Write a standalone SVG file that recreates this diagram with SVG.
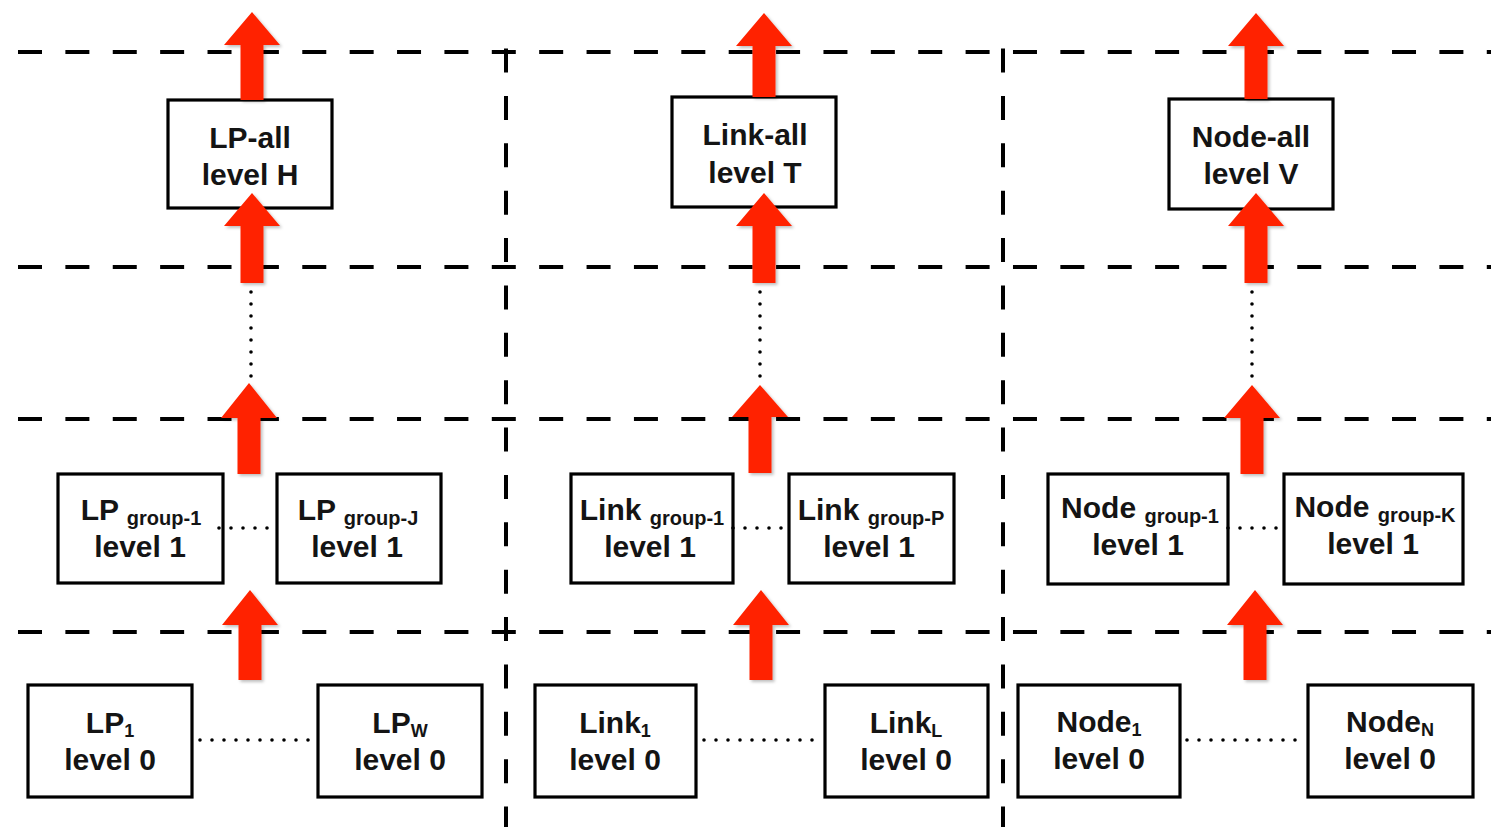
<svg xmlns="http://www.w3.org/2000/svg" width="1500" height="827" viewBox="0 0 1500 827">
<style>
.bg{fill:#ffffff}
.grid{stroke:#000;stroke-width:4;stroke-dasharray:24 23.38;fill:none}
.box{fill:#fff;stroke:#000;stroke-width:3.2}
.t{font-family:"Liberation Sans",Arial,sans-serif;font-weight:bold;font-size:30px;fill:#141414;text-anchor:middle}
.sub{font-size:20px}
.sub0{font-size:18px}
.dot{stroke:#000;stroke-width:3.6;stroke-linecap:round;stroke-dasharray:0 12;fill:none}
.arrow{fill:#ff2400;filter:url(#sh)}
</style>
<defs>
<filter id="sh" x="-30%" y="-10%" width="160%" height="130%">
<feDropShadow dx="2" dy="2" stdDeviation="1.5" flood-color="#000" flood-opacity="0.25"/>
</filter>
</defs>
<rect class="bg" x="0" y="0" width="1500" height="827"/>
<g id="grid">
<line class="grid" x1="18" y1="52" x2="1491" y2="52"/>
<line class="grid" x1="18" y1="267" x2="1491" y2="267"/>
<line class="grid" x1="18" y1="419" x2="1491" y2="419"/>
<line class="grid" x1="18" y1="632" x2="1491" y2="632"/>
<line class="grid" x1="506" y1="48.5" x2="506" y2="827"/>
<line class="grid" x1="1003" y1="48.5" x2="1003" y2="827"/>
</g>
<g id="lp-all">
<rect class="box" x="168" y="100" width="164" height="108"/>
<text class="t" x="250" y="148">LP-all</text>
<text class="t" x="250" y="185">level H</text>
</g>
<g id="link-all">
<rect class="box" x="672" y="97" width="164" height="110"/>
<text class="t" x="755" y="145">Link-all</text>
<text class="t" x="755" y="183">level T</text>
</g>
<g id="node-all">
<rect class="box" x="1169" y="99" width="164" height="110"/>
<text class="t" x="1251" y="147">Node-all</text>
<text class="t" x="1251" y="184">level V</text>
</g>
<g id="lp-group-1">
<rect class="box" x="58" y="474" width="165" height="109"/>
<text class="t" x="141" y="520">LP <tspan class="sub" dy="5">group-1</tspan></text>
<text class="t" x="140" y="557">level 1</text>
</g>
<g id="lp-group-j">
<rect class="box" x="277" y="474" width="164" height="109"/>
<text class="t" x="358" y="520">LP <tspan class="sub" dy="5">group-J</tspan></text>
<text class="t" x="357" y="557">level 1</text>
</g>
<g id="link-group-1">
<rect class="box" x="571" y="474" width="162" height="109"/>
<text class="t" x="652" y="520">Link <tspan class="sub" dy="5">group-1</tspan></text>
<text class="t" x="650" y="557">level 1</text>
</g>
<g id="link-group-p">
<rect class="box" x="789" y="474" width="165" height="109"/>
<text class="t" x="871" y="520">Link <tspan class="sub" dy="5">group-P</tspan></text>
<text class="t" x="869" y="557">level 1</text>
</g>
<g id="node-group-1">
<rect class="box" x="1048" y="474" width="180" height="110"/>
<text class="t" x="1140" y="518">Node <tspan class="sub" dy="5">group-1</tspan></text>
<text class="t" x="1138" y="555">level 1</text>
</g>
<g id="node-group-k">
<rect class="box" x="1284" y="474" width="179" height="110"/>
<text class="t" x="1375" y="517">Node <tspan class="sub" dy="5">group-K</tspan></text>
<text class="t" x="1373" y="554">level 1</text>
</g>
<g id="lp-1">
<rect class="box" x="28" y="685" width="164" height="112"/>
<text class="t" x="110" y="733">LP<tspan class="sub0" dy="4">1</tspan></text>
<text class="t" x="110" y="770">level 0</text>
</g>
<g id="lp-w">
<rect class="box" x="318" y="685" width="164" height="112"/>
<text class="t" x="400" y="733">LP<tspan class="sub0" dy="4">W</tspan></text>
<text class="t" x="400" y="770">level 0</text>
</g>
<g id="link-1">
<rect class="box" x="535" y="685" width="161" height="112"/>
<text class="t" x="615" y="733">Link<tspan class="sub0" dy="4">1</tspan></text>
<text class="t" x="615" y="770">level 0</text>
</g>
<g id="link-l">
<rect class="box" x="825" y="685" width="163" height="112"/>
<text class="t" x="906" y="733">Link<tspan class="sub0" dy="4">L</tspan></text>
<text class="t" x="906" y="770">level 0</text>
</g>
<g id="node-1">
<rect class="box" x="1018" y="685" width="162" height="112"/>
<text class="t" x="1099" y="732">Node<tspan class="sub0" dy="4">1</tspan></text>
<text class="t" x="1099" y="769">level 0</text>
</g>
<g id="node-n">
<rect class="box" x="1308" y="685" width="165" height="112"/>
<text class="t" x="1390" y="732">Node<tspan class="sub0" dy="4">N</tspan></text>
<text class="t" x="1390" y="769">level 0</text>
</g>
<g id="connectors">
<line class="dot" x1="200" y1="740" x2="310" y2="740"/>
<line class="dot" x1="704" y1="740" x2="814" y2="740"/>
<line class="dot" x1="1187" y1="740" x2="1297" y2="740"/>
<line class="dot" x1="219" y1="528" x2="277" y2="528"/>
<line class="dot" x1="733" y1="528" x2="789" y2="528"/>
<line class="dot" x1="1228" y1="528" x2="1284" y2="528"/>
<line class="dot" x1="251" y1="292" x2="251" y2="380"/>
<line class="dot" x1="760" y1="292" x2="760" y2="380"/>
<line class="dot" x1="1252" y1="292" x2="1252" y2="380"/>
<polygon class="arrow" points="252,12 280,45 263.5,45 263.5,100 240.5,100 240.5,45 224,45"/>
<polygon class="arrow" points="252,193 280,226 263.5,226 263.5,283 240.5,283 240.5,226 224,226"/>
<polygon class="arrow" points="249,383 277,418 260.5,418 260.5,474 237.5,474 237.5,418 221,418"/>
<polygon class="arrow" points="250,590 278,625 261.5,625 261.5,680 238.5,680 238.5,625 222,625"/>
<polygon class="arrow" points="764,13 792,46 775.5,46 775.5,97 752.5,97 752.5,46 736,46"/>
<polygon class="arrow" points="764,193 792,226 775.5,226 775.5,283 752.5,283 752.5,226 736,226"/>
<polygon class="arrow" points="760,385 788,417 771.5,417 771.5,473 748.5,473 748.5,417 732,417"/>
<polygon class="arrow" points="761,590 789,625 772.5,625 772.5,680 749.5,680 749.5,625 733,625"/>
<polygon class="arrow" points="1256,13 1284,46 1267.5,46 1267.5,99 1244.5,99 1244.5,46 1228,46"/>
<polygon class="arrow" points="1256,193 1284,226 1267.5,226 1267.5,283 1244.5,283 1244.5,226 1228,226"/>
<polygon class="arrow" points="1252,385 1280,418 1263.5,418 1263.5,474 1240.5,474 1240.5,418 1224,418"/>
<polygon class="arrow" points="1255,590 1283,625 1266.5,625 1266.5,680 1243.5,680 1243.5,625 1227,625"/>
</g>
</svg>
